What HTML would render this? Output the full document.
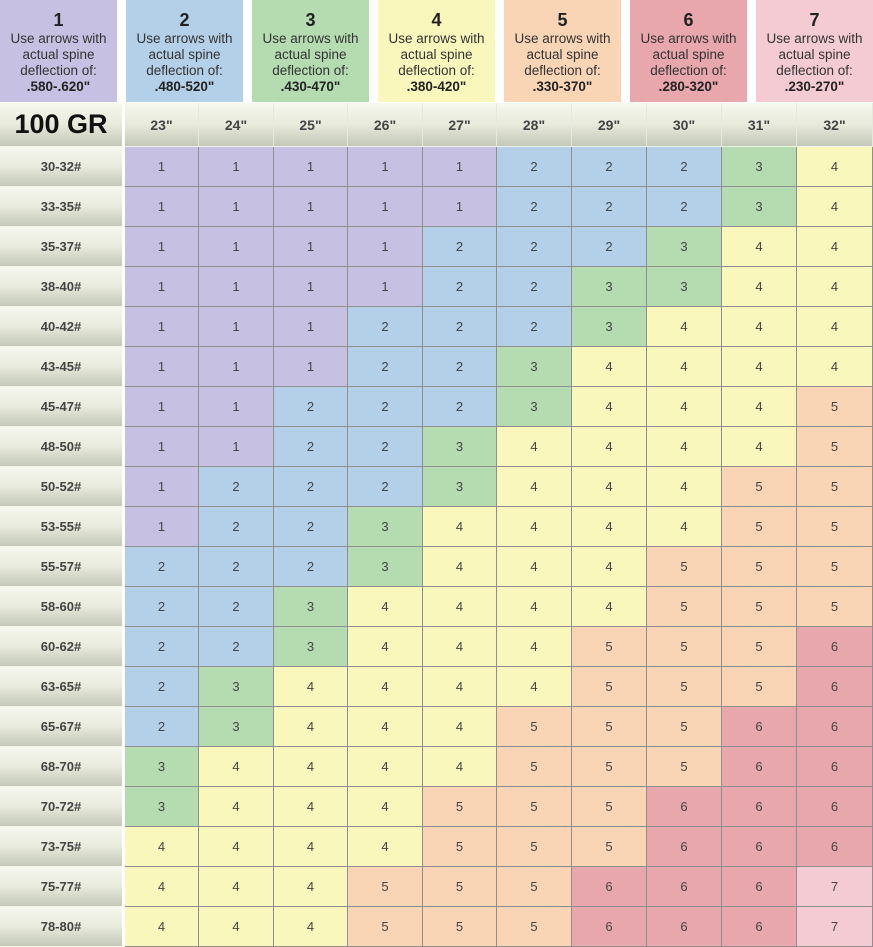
<!DOCTYPE html>
<html><head><meta charset="utf-8"><style>
body{margin:0;width:873px;height:947px;background:#fff;position:relative;overflow:hidden;font-family:"Liberation Sans",Arial,sans-serif;}
.box{position:absolute;top:0;width:117px;height:102px;text-align:center;color:#333;font-size:13.5px;line-height:16px;}
.box b.n{display:block;font-size:18px;line-height:20px;padding-top:10px;margin-bottom:1px;color:#222}
.box b.v{color:#222}
.grid{position:absolute;left:0;top:103px;display:grid;grid-template-columns:125px 74px 75px 74px 75px 74px 75px 75px 75px 75px 76px;grid-template-rows:44px repeat(20,40px);}
.grid div{box-sizing:border-box;display:flex;align-items:center;justify-content:center;font-size:13px;color:#444;border-right:1px solid #8f8f8f;border-bottom:1px solid #8f8f8f;}
.grid div.h{background:linear-gradient(#f7f8ee,#e8eadc 50%,#c3c8b7);border-right:1px solid #e6e8dc;border-bottom:1px solid #f0f0e6;font-weight:bold;font-size:14px;color:#444}
.grid div.l{background:linear-gradient(#f7f8ee,#e8eadc 50%,#c3c8b7);border-right:3px solid #fff;border-bottom:1px solid #f4f4ec;font-weight:bold;font-size:13px;color:#444}
.grid div.t{font-size:27px;color:#111;font-weight:bold}
.c1{background:#c6c1e3}.c2{background:#b3d0e8}.c3{background:#b4dcb0}.c4{background:#faf7bc}.c5{background:#f9d5b6}.c6{background:#e7a7ad}.c7{background:#f5cbd3}
</style></head><body>
<div class="box c1" style="left:0"><b class="n">1</b>Use arrows with<br>actual spine<br>deflection of:<br><b class="v">.580-.620"</b></div>
<div class="box c2" style="left:126px"><b class="n">2</b>Use arrows with<br>actual spine<br>deflection of:<br><b class="v">.480-520"</b></div>
<div class="box c3" style="left:252px"><b class="n">3</b>Use arrows with<br>actual spine<br>deflection of:<br><b class="v">.430-470"</b></div>
<div class="box c4" style="left:378px"><b class="n">4</b>Use arrows with<br>actual spine<br>deflection of:<br><b class="v">.380-420"</b></div>
<div class="box c5" style="left:504px"><b class="n">5</b>Use arrows with<br>actual spine<br>deflection of:<br><b class="v">.330-370"</b></div>
<div class="box c6" style="left:630px"><b class="n">6</b>Use arrows with<br>actual spine<br>deflection of:<br><b class="v">.280-320"</b></div>
<div class="box c7" style="left:756px"><b class="n">7</b>Use arrows with<br>actual spine<br>deflection of:<br><b class="v">.230-270"</b></div>
<div class="grid">
<div class="l t">100 GR</div><div class="h">23"</div><div class="h">24"</div><div class="h">25"</div><div class="h">26"</div><div class="h">27"</div><div class="h">28"</div><div class="h">29"</div><div class="h">30"</div><div class="h">31"</div><div class="h">32"</div>
<div class="l">30-32#</div><div class="c1">1</div><div class="c1">1</div><div class="c1">1</div><div class="c1">1</div><div class="c1">1</div><div class="c2">2</div><div class="c2">2</div><div class="c2">2</div><div class="c3">3</div><div class="c4">4</div>
<div class="l">33-35#</div><div class="c1">1</div><div class="c1">1</div><div class="c1">1</div><div class="c1">1</div><div class="c1">1</div><div class="c2">2</div><div class="c2">2</div><div class="c2">2</div><div class="c3">3</div><div class="c4">4</div>
<div class="l">35-37#</div><div class="c1">1</div><div class="c1">1</div><div class="c1">1</div><div class="c1">1</div><div class="c2">2</div><div class="c2">2</div><div class="c2">2</div><div class="c3">3</div><div class="c4">4</div><div class="c4">4</div>
<div class="l">38-40#</div><div class="c1">1</div><div class="c1">1</div><div class="c1">1</div><div class="c1">1</div><div class="c2">2</div><div class="c2">2</div><div class="c3">3</div><div class="c3">3</div><div class="c4">4</div><div class="c4">4</div>
<div class="l">40-42#</div><div class="c1">1</div><div class="c1">1</div><div class="c1">1</div><div class="c2">2</div><div class="c2">2</div><div class="c2">2</div><div class="c3">3</div><div class="c4">4</div><div class="c4">4</div><div class="c4">4</div>
<div class="l">43-45#</div><div class="c1">1</div><div class="c1">1</div><div class="c1">1</div><div class="c2">2</div><div class="c2">2</div><div class="c3">3</div><div class="c4">4</div><div class="c4">4</div><div class="c4">4</div><div class="c4">4</div>
<div class="l">45-47#</div><div class="c1">1</div><div class="c1">1</div><div class="c2">2</div><div class="c2">2</div><div class="c2">2</div><div class="c3">3</div><div class="c4">4</div><div class="c4">4</div><div class="c4">4</div><div class="c5">5</div>
<div class="l">48-50#</div><div class="c1">1</div><div class="c1">1</div><div class="c2">2</div><div class="c2">2</div><div class="c3">3</div><div class="c4">4</div><div class="c4">4</div><div class="c4">4</div><div class="c4">4</div><div class="c5">5</div>
<div class="l">50-52#</div><div class="c1">1</div><div class="c2">2</div><div class="c2">2</div><div class="c2">2</div><div class="c3">3</div><div class="c4">4</div><div class="c4">4</div><div class="c4">4</div><div class="c5">5</div><div class="c5">5</div>
<div class="l">53-55#</div><div class="c1">1</div><div class="c2">2</div><div class="c2">2</div><div class="c3">3</div><div class="c4">4</div><div class="c4">4</div><div class="c4">4</div><div class="c4">4</div><div class="c5">5</div><div class="c5">5</div>
<div class="l">55-57#</div><div class="c2">2</div><div class="c2">2</div><div class="c2">2</div><div class="c3">3</div><div class="c4">4</div><div class="c4">4</div><div class="c4">4</div><div class="c5">5</div><div class="c5">5</div><div class="c5">5</div>
<div class="l">58-60#</div><div class="c2">2</div><div class="c2">2</div><div class="c3">3</div><div class="c4">4</div><div class="c4">4</div><div class="c4">4</div><div class="c4">4</div><div class="c5">5</div><div class="c5">5</div><div class="c5">5</div>
<div class="l">60-62#</div><div class="c2">2</div><div class="c2">2</div><div class="c3">3</div><div class="c4">4</div><div class="c4">4</div><div class="c4">4</div><div class="c5">5</div><div class="c5">5</div><div class="c5">5</div><div class="c6">6</div>
<div class="l">63-65#</div><div class="c2">2</div><div class="c3">3</div><div class="c4">4</div><div class="c4">4</div><div class="c4">4</div><div class="c4">4</div><div class="c5">5</div><div class="c5">5</div><div class="c5">5</div><div class="c6">6</div>
<div class="l">65-67#</div><div class="c2">2</div><div class="c3">3</div><div class="c4">4</div><div class="c4">4</div><div class="c4">4</div><div class="c5">5</div><div class="c5">5</div><div class="c5">5</div><div class="c6">6</div><div class="c6">6</div>
<div class="l">68-70#</div><div class="c3">3</div><div class="c4">4</div><div class="c4">4</div><div class="c4">4</div><div class="c4">4</div><div class="c5">5</div><div class="c5">5</div><div class="c5">5</div><div class="c6">6</div><div class="c6">6</div>
<div class="l">70-72#</div><div class="c3">3</div><div class="c4">4</div><div class="c4">4</div><div class="c4">4</div><div class="c5">5</div><div class="c5">5</div><div class="c5">5</div><div class="c6">6</div><div class="c6">6</div><div class="c6">6</div>
<div class="l">73-75#</div><div class="c4">4</div><div class="c4">4</div><div class="c4">4</div><div class="c4">4</div><div class="c5">5</div><div class="c5">5</div><div class="c5">5</div><div class="c6">6</div><div class="c6">6</div><div class="c6">6</div>
<div class="l">75-77#</div><div class="c4">4</div><div class="c4">4</div><div class="c4">4</div><div class="c5">5</div><div class="c5">5</div><div class="c5">5</div><div class="c6">6</div><div class="c6">6</div><div class="c6">6</div><div class="c7">7</div>
<div class="l">78-80#</div><div class="c4">4</div><div class="c4">4</div><div class="c4">4</div><div class="c5">5</div><div class="c5">5</div><div class="c5">5</div><div class="c6">6</div><div class="c6">6</div><div class="c6">6</div><div class="c7">7</div>
</div>
</body></html>
